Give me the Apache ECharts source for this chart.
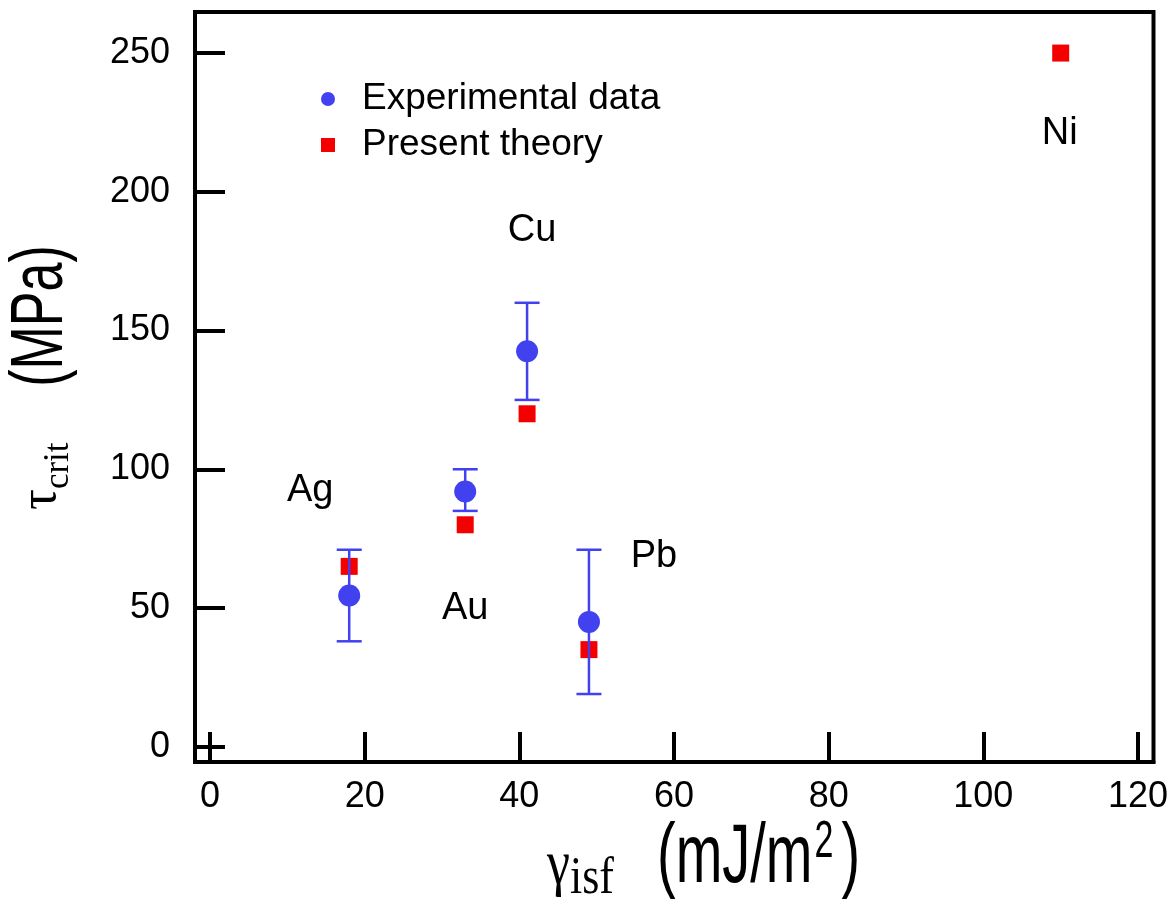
<!DOCTYPE html>
<html>
<head>
<meta charset="utf-8">
<script src="https://cdn.jsdelivr.net/npm/echarts@6/dist/echarts.min.js"></script>
<style>
  html, body { margin: 0; padding: 0; background: #fff; }
  #chart { width: 1172px; height: 911px; }
</style>
</head>
<body>
<div id="chart"></div>
<script>
// values
const metals = ["Ag", "Au", "Cu", "Pb", "Ni"];
const gammaIsf = [18, 33, 41, 49, 110];
const expValues = [54.5, 92, 142.5, 45, null];
const expLow = [38, 85, 125, 19, null];
const expHigh = [71, 100, 160, 71, null];
const theoryValues = [65, 80, 120, 35, 250];
const xTicks = [0, 20, 40, 60, 80, 100, 120];
const yTicks = [0, 50, 100, 150, 200, 250];

// where each element name sits relative to its theory marker (px)
const nameOffset = {
  Ag: [-39, -76],
  Au: [0, 84],
  Cu: [5, -183],
  Pb: [65, -93],
  Ni: [-1, 80],
};

const BLUE = "#4141f0";
const RED = "#f50000";
const SANS = "'Liberation Sans', Arial, sans-serif";
const SERIF = "'Liberation Serif', 'Times New Roman', serif";

const expData = [];
const errData = [];
const theoryData = [];
for (let i = 0; i < metals.length; i++) {
  if (expValues[i] != null) {
    expData.push([gammaIsf[i], expValues[i]]);
    errData.push([gammaIsf[i], expLow[i], expHigh[i]]);
  }
  theoryData.push({
    value: [gammaIsf[i], theoryValues[i]],
    label: { offset: nameOffset[metals[i]], formatter: metals[i] },
  });
}

const chart = echarts.init(document.getElementById("chart"));

// axis titles: greek symbol part in serif, unit part in a stretched sans
const titles = [
  {
    type: "text", x: 547, y: 867, scaleY: 1.2, silent: true,
    style: {
      text: "{g|γ}{s|isf}", align: "left", verticalAlign: "middle", fill: "#000",
      rich: {
        g: { fontFamily: SERIF, fontSize: 52, fill: "#000", lineHeight: 64 },
        s: { fontFamily: SERIF, fontSize: 44, fill: "#000", lineHeight: 30, verticalAlign: "bottom" },
      },
    },
  },
  {
    type: "text", x: 657, y: 859, scaleY: 1.5, silent: true,
    style: {
      text: "{n|(mJ/m}{p|2}{n|)}", align: "left", verticalAlign: "middle", fill: "#000",
      rich: {
        n: { fontFamily: SANS, fontSize: 56, fill: "#000", lineHeight: 56 },
        p: { fontFamily: SANS, fontSize: 34, fill: "#000", lineHeight: 30, verticalAlign: "top", padding: [0, 8, 0, 2] },
      },
    },
  },
  {
    type: "text", x: 41, y: 510, rotation: Math.PI / 2, silent: true,
    style: {
      text: "{g|τ}{s|crit}", align: "left", verticalAlign: "middle", fill: "#000",
      rich: {
        g: { fontFamily: SERIF, fontSize: 52, fill: "#000", lineHeight: 70 },
        s: { fontFamily: SERIF, fontSize: 35, fill: "#000", lineHeight: 30, verticalAlign: "bottom" },
      },
    },
  },
  {
    type: "text", x: 42, y: 316, rotation: Math.PI / 2, scaleY: 1.42, silent: true,
    style: {
      text: "(MPa)", align: "center", verticalAlign: "middle", fill: "#000",
      fontFamily: SANS, fontSize: 52,
    },
  },
];

const option = {
  animation: false,
  backgroundColor: "#fff",
  grid: {
    left: 195,
    right: 18.5,
    top: 12,
    bottom: 149,
    show: true,
    borderColor: "#000",
    borderWidth: 4,
  },
  legend: {
    data: [
      { name: "Experimental data", icon: "circle" },
      { name: "Present theory", icon: "rect" },
    ],
    orient: "vertical",
    left: 316,
    top: 74,
    itemWidth: 14,
    itemHeight: 14,
    itemGap: 6,
    textStyle: {
      fontFamily: SANS,
      fontSize: 37,
      color: "#000",
      lineHeight: 40,
      padding: [0, 0, 0, 22],
    },
  },
  graphic: titles,
  xAxis: {
    type: "value",
    min: -1.94,
    max: 122,
    splitLine: { show: false },
    axisLine: { show: true, onZero: false, lineStyle: { color: "#000", width: 4 } },
    axisTick: {
      show: true,
      inside: true,
      length: 30,
      customValues: xTicks,
      lineStyle: { color: "#000", width: 4 },
    },
    axisLabel: {
      customValues: xTicks,
      margin: 17,
      color: "#000",
      fontFamily: SANS,
      fontSize: 36,
    },
  },
  yAxis: {
    type: "value",
    min: -5.5,
    max: 264.8,
    splitLine: { show: false },
    axisLine: { show: true, onZero: false, lineStyle: { color: "#000", width: 4 } },
    axisTick: {
      show: true,
      inside: true,
      length: 30,
      customValues: yTicks,
      lineStyle: { color: "#000", width: 4 },
    },
    axisLabel: {
      customValues: yTicks,
      margin: 25,
      color: "#000",
      fontFamily: SANS,
      fontSize: 36,
    },
  },
  series: [
    {
      name: "Present theory",
      type: "scatter",
      symbol: "rect",
      symbolSize: 17,
      itemStyle: { color: RED, opacity: 1 },
      z: 2,
      label: {
        show: true,
        position: "inside",
        color: "#000",
        fontFamily: SANS,
        fontSize: 38,
      },
      data: theoryData,
    },
    {
      name: "errorbars",
      type: "custom",
      z: 3,
      data: errData,
      encode: { x: 0, y: [1, 2] },
      renderItem: function (params, api) {
        const x = api.value(0);
        const lo = api.coord([x, api.value(1)]);
        const hi = api.coord([x, api.value(2)]);
        const half = 12.5;
        const style = { stroke: BLUE, lineWidth: 2.5 };
        return {
          type: "group",
          children: [
            { type: "line", shape: { x1: lo[0], y1: lo[1], x2: hi[0], y2: hi[1] }, style: style },
            { type: "line", shape: { x1: lo[0] - half, y1: lo[1], x2: lo[0] + half, y2: lo[1] }, style: style },
            { type: "line", shape: { x1: hi[0] - half, y1: hi[1], x2: hi[0] + half, y2: hi[1] }, style: style },
          ],
        };
      },
    },
    {
      name: "Experimental data",
      type: "scatter",
      symbol: "circle",
      symbolSize: 22,
      itemStyle: { color: BLUE, opacity: 1 },
      z: 4,
      data: expData,
    },
  ],
};

chart.setOption(option);
</script>
</body>
</html>
